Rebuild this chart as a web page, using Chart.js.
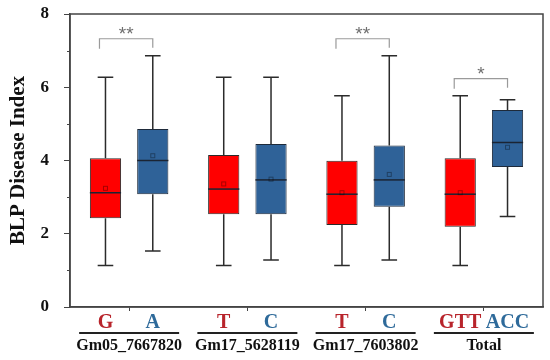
<!DOCTYPE html>
<html>
<head>
<meta charset="utf-8">
<script src="https://cdn.jsdelivr.net/npm/chart.js@4.4.0/dist/chart.umd.min.js"></script>
<style>
  body { margin: 0; background: #fff; }
  #wrap { width: 550px; height: 360px; }
</style>
</head>
<body>
<div id="wrap"><canvas id="myChart"></canvas></div>
<script>
// groups and allele labels
const categories = ['Gm05_7667820', 'Gm17_5628119', 'Gm17_7603802', 'Total'];
const refAlleles = ['G', 'T', 'T', 'GTT'];
const altAlleles = ['A', 'C', 'C', 'ACC'];

// box stats (red = first allele, blue = second)
const refMin    = [1.13, 1.13, 1.13, 1.13];
const refQ1     = [2.42, 2.53, 2.24, 2.19];
const refMedian = [3.12, 3.22, 3.08, 3.08];
const refQ3     = [4.06, 4.15, 3.99, 4.06];
const refMax    = [6.27, 6.27, 5.77, 5.77];
const refMean   = [3.24, 3.36, 3.12, 3.12];

const altMin    = [1.53, 1.28, 1.28, 2.47];
const altQ1     = [3.08, 2.53, 2.74, 3.82];
const altMedian = [4.00, 3.47, 3.47, 4.49];
const altQ3     = [4.86, 4.45, 4.41, 5.38];
const altMax    = [6.86, 6.27, 6.86, 5.66];
const altMean   = [4.13, 3.49, 3.62, 4.36];

const significance = ['**', '', '**', '*'];
const yTicks = [0, 2, 4, 6, 8];

const SERIF = '"Liberation Serif", "Times New Roman", serif';
const RED = '#ff0000';
const BLUE = '#2f6298';
const RED_TEXT = '#b8242b';
const BLUE_TEXT = '#2e6a9a';

const stats = [
    { min: refMin, med: refMedian, max: refMax, mean: refMean },
    { min: altMin, med: altMedian, max: altMax, mean: altMean }
];

// whiskers, medians, means, frame, brackets and the custom x labels
const boxExtras = {
    id: 'boxExtras',
    afterDatasetsDraw(chart) {
        const ctx = chart.ctx;
        const y = chart.scales.y;
        const x = chart.scales.x;
        const area = chart.chartArea;
        ctx.save();

        // frame
        ctx.strokeStyle = '#444';
        ctx.lineWidth = 1.5;
        ctx.strokeRect(area.left, area.top, area.right - area.left, area.bottom - area.top);

        // minor y ticks
        ctx.lineWidth = 1;
        for (let v = 1; v < 8; v += 2) {
            const py = Math.round(y.getPixelForValue(v)) + 0.5;
            ctx.beginPath();
            ctx.moveTo(area.left - 3, py);
            ctx.lineTo(area.left, py);
            ctx.stroke();
        }

        stats.forEach((s, di) => {
            const meta = chart.getDatasetMeta(di);
            meta.data.forEach((bar, i) => {
                const half = bar.width / 2;
                const cap = bar.width / 4;
                const pTop = y.getPixelForValue(s.max[i]);
                const pBot = y.getPixelForValue(s.min[i]);
                const q3 = y.getPixelForValue(di === 0 ? refQ3[i] : altQ3[i]);
                const q1 = y.getPixelForValue(di === 0 ? refQ1[i] : altQ1[i]);
                ctx.strokeStyle = '#2b2b2b';
                ctx.lineWidth = 1.5;
                ctx.beginPath();
                ctx.moveTo(bar.x, q3); ctx.lineTo(bar.x, pTop);
                ctx.moveTo(bar.x - cap, pTop); ctx.lineTo(bar.x + cap, pTop);
                ctx.moveTo(bar.x, q1); ctx.lineTo(bar.x, pBot);
                ctx.moveTo(bar.x - cap, pBot); ctx.lineTo(bar.x + cap, pBot);
                ctx.stroke();

                // median
                const pm = y.getPixelForValue(s.med[i]);
                ctx.strokeStyle = '#1b2433';
                ctx.beginPath();
                ctx.moveTo(bar.x - half, pm); ctx.lineTo(bar.x + half, pm);
                ctx.stroke();

                // mean marker
                const pmean = y.getPixelForValue(s.mean[i]);
                ctx.strokeStyle = 'rgba(0,0,0,0.35)';
                ctx.lineWidth = 1;
                ctx.strokeRect(bar.x - 2, pmean - 2, 4, 4);
            });
        });

        // significance brackets
        const r = chart.getDatasetMeta(0).data;
        const a = chart.getDatasetMeta(1).data;
        significance.forEach((sig, i) => {
            if (!sig) return;
            const top = y.getPixelForValue(Math.max(refMax[i], altMax[i])) - 17;
            ctx.strokeStyle = '#9a9a9a';
            ctx.lineWidth = 1.2;
            ctx.beginPath();
            ctx.moveTo(r[i].x - 6, top + 10);
            ctx.lineTo(r[i].x - 6, top);
            ctx.lineTo(a[i].x, top);
            ctx.lineTo(a[i].x, top + 9);
            ctx.stroke();
            ctx.fillStyle = '#6f6f6f';
            ctx.font = '19px "Liberation Sans", sans-serif';
            ctx.textAlign = 'center';
            ctx.textBaseline = 'middle';
            ctx.fillText(sig, (r[i].x + a[i].x) / 2 - 3, top - 4);
        });

        // x labels: alleles, underline, group name
        categories.forEach((name, i) => {
            const cx = x.getPixelForValue(i);
            ctx.textAlign = 'center';
            ctx.textBaseline = 'middle';
            ctx.font = 'bold 20px ' + SERIF;
            ctx.fillStyle = RED_TEXT;
            ctx.fillText(refAlleles[i], r[i].x, area.bottom + 16);
            ctx.fillStyle = BLUE_TEXT;
            ctx.fillText(altAlleles[i], a[i].x, area.bottom + 16);

            ctx.strokeStyle = '#222';
            ctx.lineWidth = 2;
            ctx.beginPath();
            ctx.moveTo(cx - 50, area.bottom + 26);
            ctx.lineTo(cx + 50, area.bottom + 26);
            ctx.stroke();

            ctx.fillStyle = '#111';
            ctx.font = 'bold 16px ' + SERIF;
            ctx.fillText(name, cx, area.bottom + 39);
        });

        ctx.restore();
    }
};

const ctx = document.getElementById('myChart').getContext('2d');
const myChart = new Chart(ctx, {
    type: 'bar',
    data: {
        labels: categories,
        datasets: [{
            label: 'ref',
            data: refQ1.map((v, i) => [v, refQ3[i]]),
            backgroundColor: RED,
            borderColor: '#2a2a2a',
            borderWidth: 1,
            borderSkipped: false
        }, {
            label: 'alt',
            data: altQ1.map((v, i) => [v, altQ3[i]]),
            backgroundColor: BLUE,
            borderColor: '#1e2a3a',
            borderWidth: 1,
            borderSkipped: false
        }]
    },
    options: {
        responsive: true,
        maintainAspectRatio: false,
        animation: false,
        categoryPercentage: 0.8,
        barPercentage: 0.66,
        layout: { padding: { top: 14, right: 7, left: 0, bottom: 0 } },
        plugins: {
            legend: { display: false },
            tooltip: { enabled: false }
        },
        scales: {
            x: {
                grid: { offset: false, drawOnChartArea: false, tickLength: 4, color: '#444' },
                border: { color: '#444', width: 1.5 },
                ticks: { display: false },
                afterFit: scale => { scale.height = 53; }
            },
            y: {
                min: 0,
                max: 8,
                afterBuildTicks: scale => { scale.ticks = yTicks.map(v => ({ value: v })); },
                grid: { drawOnChartArea: false, tickLength: 6, color: '#444' },
                border: { color: '#444', width: 1.5 },
                ticks: {
                    padding: 15,
                    color: '#111',
                    font: { family: SERIF, size: 17, weight: 'bold' }
                },
                title: {
                    display: true,
                    text: 'BLP Disease Index',
                    color: '#111',
                    padding: { top: 6, bottom: 0 },
                    font: { family: SERIF, size: 21, weight: 'bold' }
                },
                afterFit: scale => {
                    scale.width = 70;
                    scale.paddingTop = 0;
                    scale.paddingBottom = 0;
                }
            }
        }
    },
    plugins: [boxExtras]
});
</script>
</body>
</html>
